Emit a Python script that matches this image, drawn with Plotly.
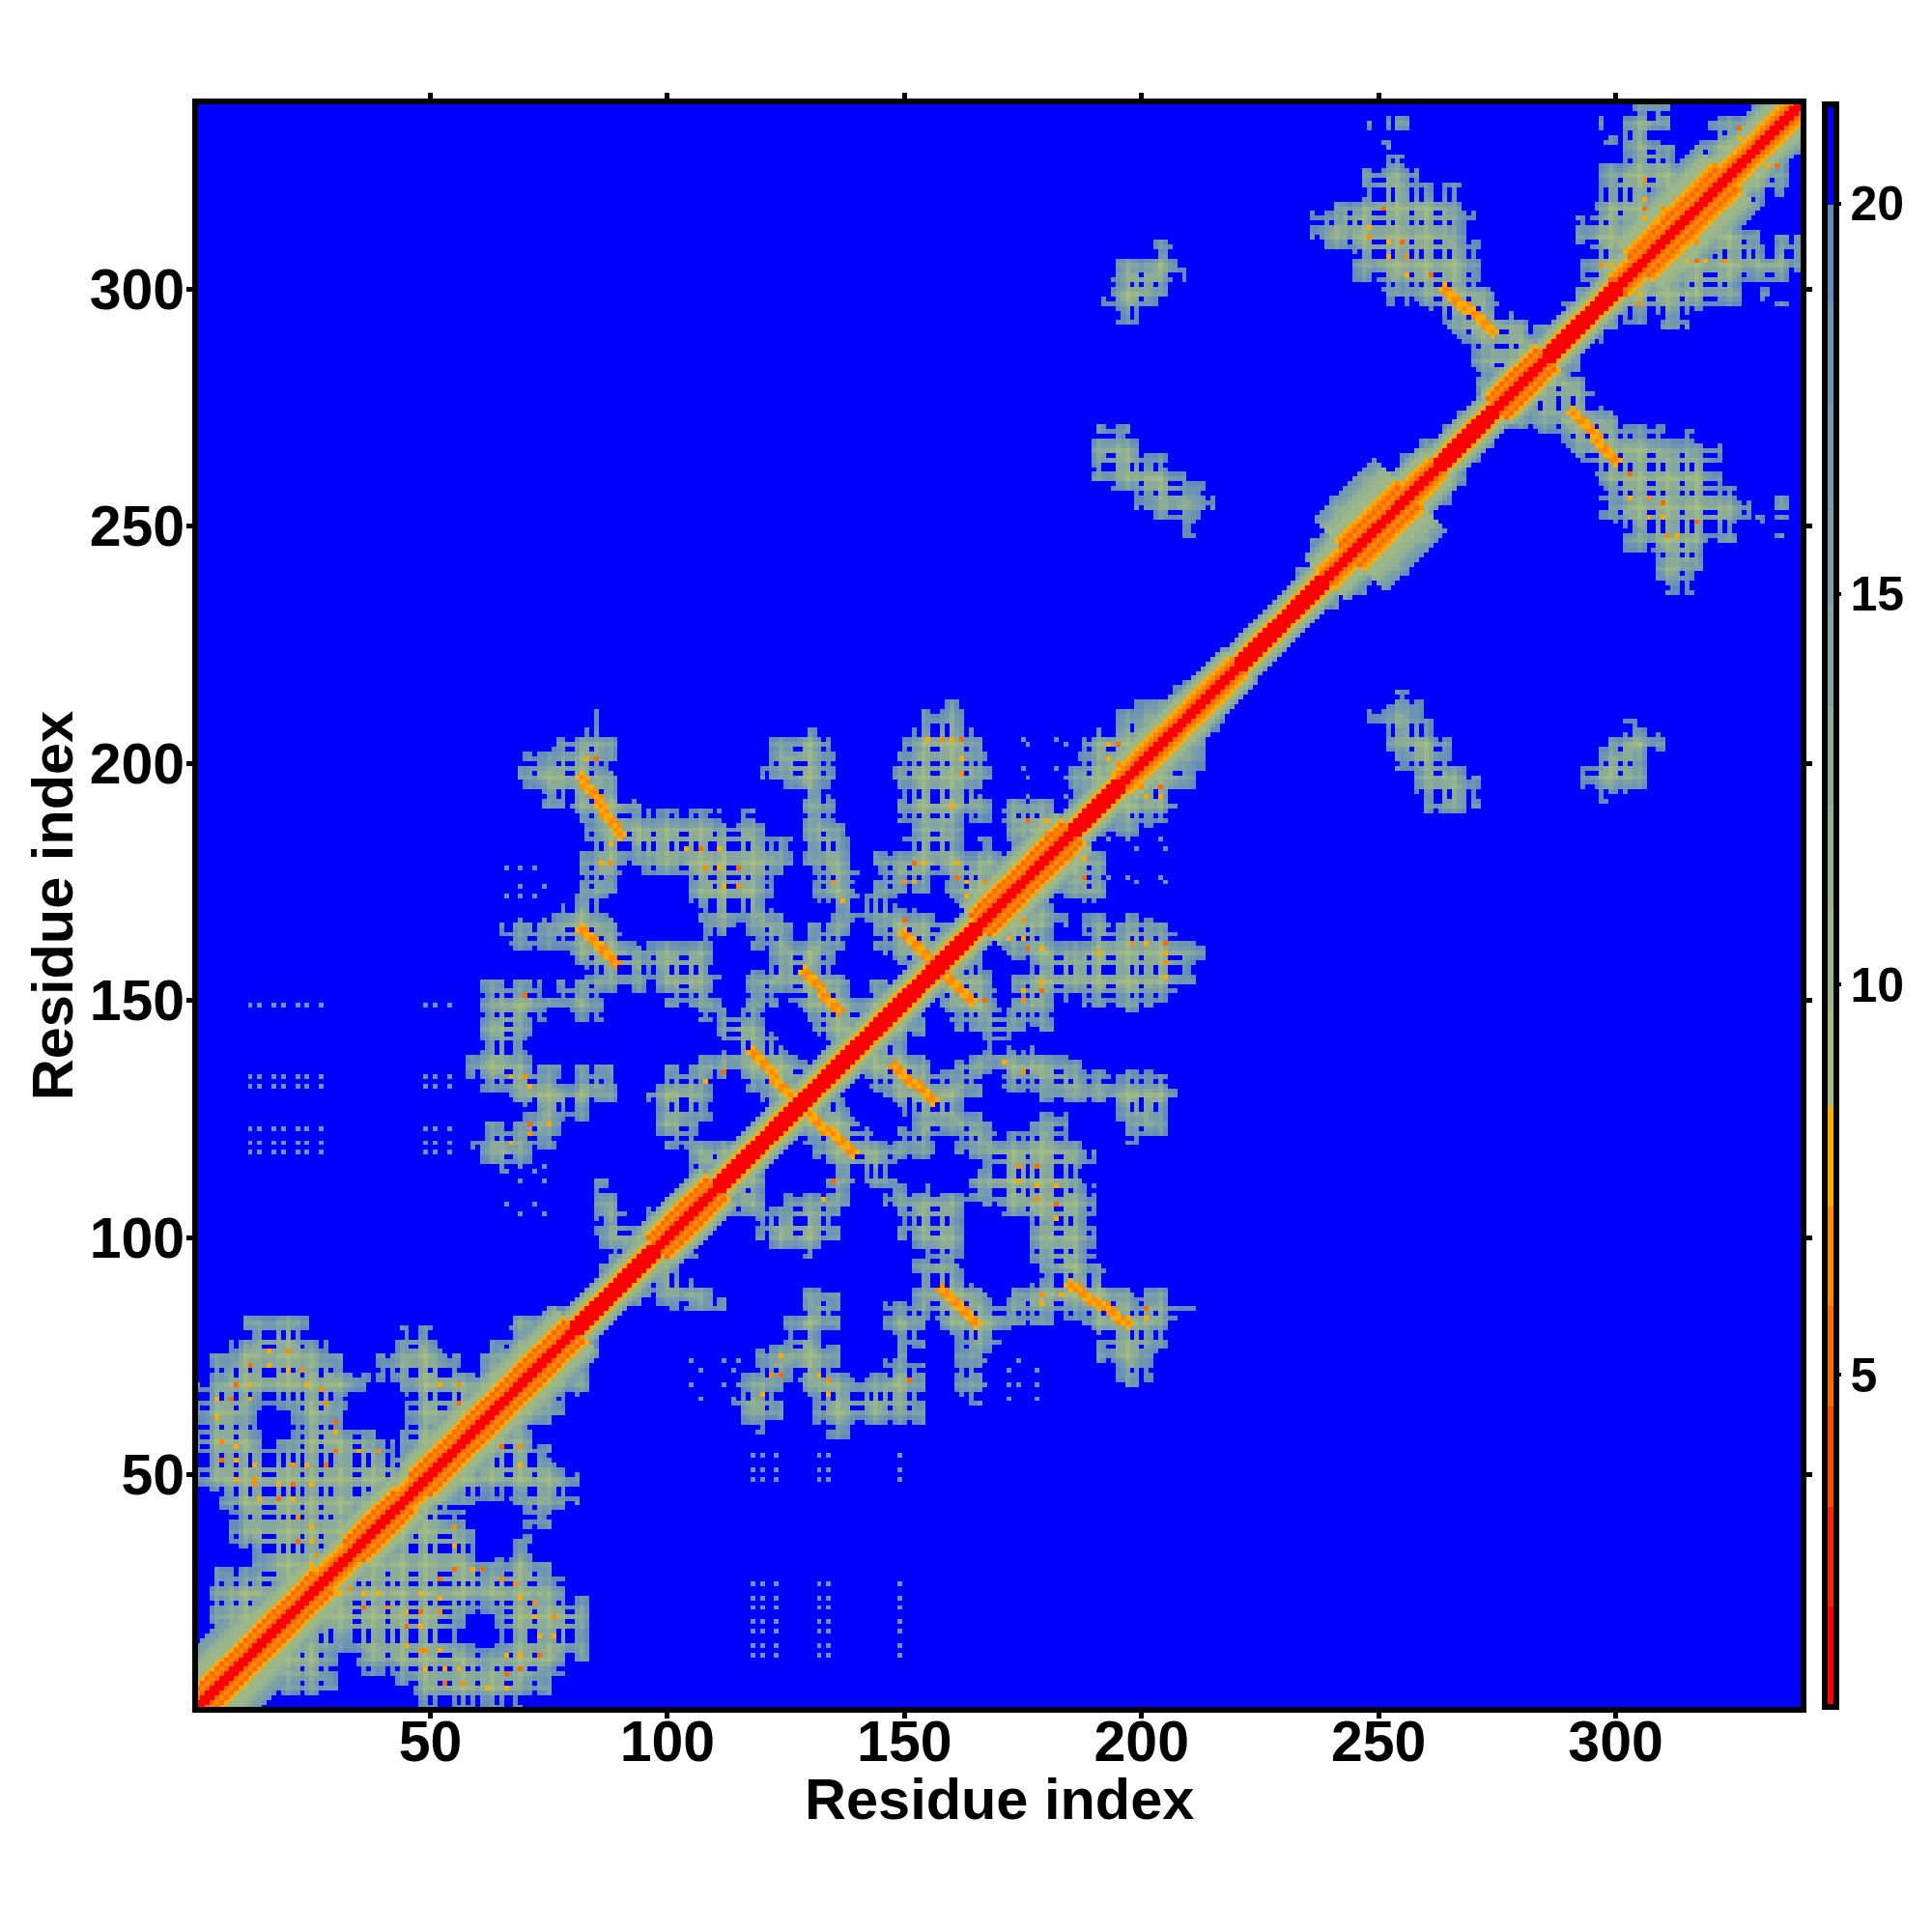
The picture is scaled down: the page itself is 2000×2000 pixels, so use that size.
import numpy as np
import plotly.graph_objects as go

N_RES = 339
tick_positions = [50, 100, 150, 200, 250, 300]
cbar_ticks = [5, 10, 15, 20]
axis_title = "Residue index"
band_edges = [0.75, 21.27]
band_colors = ["#ff0000", "#ff2200", "#ff4a00", "#ff6a00", "#ff8c00", "#ffaa00",
               "#a4bd80", "#9cb888", "#94b290", "#8cac98", "#84a6a0", "#7ca0a8",
               "#749ab0", "#6c94b4", "#648cb8", "#0000ff"]

# contact regions, read row by row (row centre: runs of residues); each row spans three residues
lower_left_rows = {
    83: [(11, 24), (67, 80)], 80: [(11, 24), (44, 50), (66, 80)], 77: [(8, 28), (43, 53), (63, 77)],
    74: [(4, 31), (39, 56), (60, 74)], 71: [(4, 37), (39, 71)], 68: [(1, 36), (44, 68)],
    65: [(1, 32), (45, 65)], 62: [(1, 13), (21, 31), (45, 62)], 59: [(1, 14), (21, 38), (44, 59)],
    56: [(1, 42), (44, 56)], 53: [(1, 53)], 50: [(1, 50)], 47: [(1, 47)], 44: [(6, 44)],
    41: [(8, 41)], 38: [(8, 38)], 35: [(8, 35)], 32: [(13, 32)], 29: [(5, 29)], 26: [(4, 26)],
    23: [(4, 23)], 20: [(4, 20)], 17: [(8, 17)], 14: [(1, 14)],
}
central_rows = {
    212: [(159, 161)], 210: [(84, 85), (154, 163), (194, 210)],
    207: [(82, 87), (127, 132), (151, 165), (190, 207)],
    204: [(77, 89), (122, 134), (150, 166), (188, 204)],
    201: [(70, 89), (121, 135), (149, 167), (187, 201)],
    198: [(69, 87), (120, 135), (148, 168), (185, 198)],
    195: [(70, 86), (125, 134), (149, 166), (185, 195)],
    192: [(74, 87), (128, 135), (149, 168), (171, 181), (185, 192)],
    189: [(82, 92), (96, 111), (115, 118), (128, 135), (149, 189)],
    186: [(83, 121), (128, 137), (151, 162), (171, 186)],
    183: [(83, 126), (128, 139), (150, 163), (166, 170), (172, 183)],
    180: [(82, 92), (94, 126), (129, 139), (144, 180)],
    177: [(82, 91), (95, 124), (131, 141), (145, 177)],
    174: [(82, 89), (104, 122), (131, 140), (144, 156), (159, 174)],
    171: [(80, 87), (104, 122), (131, 148), (160, 171)],
    168: [(79, 87), (107, 124), (135, 146), (148, 157), (162, 168)],
    165: [(65, 88), (108, 115), (117, 126), (130, 139), (144, 152), (156, 165)],
    162: [(66, 90), (96, 109), (118, 137), (144, 155), (158, 162)],
    159: [(80, 95), (96, 110), (122, 135), (150, 159)],
    156: [(83, 90), (94, 111), (117, 126), (129, 136), (151, 156)],
    153: [(61, 73), (77, 89), (97, 110), (117, 125), (129, 138), (143, 153)],
    150: [(61, 86), (100, 111), (117, 123), (132, 138), (141, 150)],
    147: [(61, 74), (79, 86), (107, 120), (134, 139), (140, 147)],
    144: [(60, 71), (111, 120), (134, 138), (139, 144)],
    141: [(61, 70), (112, 120), (134, 141)],
    138: [(58, 71), (107, 125), (132, 138)],
    135: [(58, 77), (81, 88), (100, 127), (132, 135)],
    132: [(61, 89), (97, 109), (117, 132)],
    129: [(66, 89), (96, 109), (120, 129)],
    126: [(70, 84), (97, 109), (125, 126)],
    123: [(62, 77), (97, 106), (120, 123)],
    120: [(59, 76), (100, 113), (118, 120)],
    117: [(61, 71), (104, 117)], 114: [(63, 67), (104, 114)],
    111: [(84, 87)], 108: [(84, 90)], 105: [(84, 92), (96, 105)], 102: [(85, 102)], 99: [(86, 99)],
    96: [(88, 96)], 93: [(86, 93)], 90: [(84, 90)], 87: [(82, 87)], 84: [(75, 84)],
}
upper_rows = {
    336: [(251, 252), (254, 256)], 334: [(248, 249), (251, 252), (254, 257)], 331: [(250, 252)],
    327: [(251, 255)], 324: [(247, 258)], 321: [(247, 267)], 318: [(241, 267)], 315: [(236, 270)],
    312: [(236, 268)], 309: [(238, 271), (203, 207)], 306: [(245, 271), (195, 208)],
    303: [(245, 271), (193, 209)], 300: [(250, 272), (193, 206)],
    297: [(252, 253), (256, 257), (260, 274), (192, 203)], 294: [(266, 277), (195, 200)],
    291: [(268, 291)], 288: [(270, 288)], 285: [(270, 285)], 282: [(271, 282)], 279: [(271, 279)],
    276: [(269, 276)], 273: [(267, 273)], 270: [(263, 270), (191, 197)], 267: [(259, 267), (189, 200)],
    264: [(255, 264), (189, 205)], 261: [(249, 261), (190, 209)], 258: [(244, 258), (193, 213)],
    255: [(240, 255), (199, 215)], 252: [(238, 252), (203, 212)], 249: [(237, 249), (208, 211)],
    246: [(236, 246)], 243: [(236, 243)], 240: [(233, 240)], 216: [(206, 216)], 213: [(199, 213)],
}
top_corner_rows = {
    338: [(304, 311), (329, 338)], 335: [(296, 297), (301, 311), (319, 335)],
    332: [(298, 309), (318, 332)], 329: [(302, 312), (318, 329)], 326: [(297, 326)],
    323: [(297, 323)], 320: [(296, 320)], 317: [(295, 317)], 314: [(292, 314)], 311: [(292, 311)],
    308: [(294, 308)], 305: [(293, 305)], 302: [(293, 302)], 299: [(292, 299)], 296: [(289, 296)],
    293: [(287, 293)],
}

# near-diagonal band: first and last mid-residue, width of warm band, width of pale band
diagonal_segments = [
    (1, 15, 5, 13), (16, 27, 5, 10), (28, 33, 4, 7), (34, 44, 5, 9), (45, 47, 4, 7), (48, 60, 5, 10),
    (61, 66, 5, 9), (67, 80, 5, 10), (81, 97, 3, 6), (98, 110, 5, 8), (111, 165, 3, 6), (166, 185, 5, 9),
    (186, 195, 3, 6), (196, 210, 4, 8), (211, 220, 4, 7), (221, 238, 3, 6), (239, 243, 4, 9), (244, 256, 6, 15),
    (257, 262, 4, 8), (263, 274, 3, 6), (275, 285, 5, 7), (286, 300, 3, 6), (301, 304, 4, 8), (305, 323, 6, 13),
    (324, 339, 4, 9),
]
warm_levels = {3: [1.2, 1.2, 1.6, 7.6], 4: [1.2, 1.2, 5.0, 6.8, 7.6], 5: [1.2, 1.2, 5.0, 6.8, 5.5, 7.6],
               6: [1.2, 1.2, 5.0, 6.5, 5.5, 6.8, 7.6]}
pale_levels = [10, 10, 10.5, 11, 11.5, 12, 13, 14, 15, 16, 17, 18, 18.5]
edge_levels = [19, 18, 16.5, 15, 13.5, 12.5]

# antiparallel strand streaks: x start, x end, y start, y end
strands = [(82, 90, 197, 185), (82, 89, 165, 158), (118, 126, 139, 130), (129, 136, 156, 148),
           (150, 155, 164, 159), (264, 274, 300, 291)]
strand_levels = [6.5, 7.5]
# pale ridges carrying the strands towards the diagonal: x start, x end, y start, y end
ridges = [(80, 93, 199, 183), (80, 91, 167, 156), (116, 129, 141, 129), (127, 141, 158, 141),
          (148, 158, 166, 158), (262, 277, 302, 289)]
ridge_halfwidth = 4

hot_x = [16, 20, 16, 12, 20, 23, 12, 9, 24, 27, 5, 8, 12, 28, 5, 30, 30, 6, 9, 30, 35, 39, 9, 6, 13, 21, 24, 28, 9, 13, 18,
         21, 25, 13, 14, 18, 21, 22, 25, 22, 25, 26, 25, 56, 52, 56, 83, 85, 86, 88, 104, 107, 111, 108, 111, 115, 112,
         115, 88, 70, 67, 70, 71, 71, 75, 71, 67, 112, 108, 135, 137, 152, 154, 150, 152, 150, 155, 158, 160, 162, 162,
         162, 160, 176, 180, 180, 193, 195, 193, 195, 161, 161, 163, 167, 163, 251, 248, 248, 252, 255, 252, 256, 256,
         261, 264, 306, 306, 306, 306, 310, 309, 326, 326, 297, 299, 299]
hot_y = [76, 76, 73, 73, 72, 72, 69, 69, 69, 68, 66, 66, 66, 65, 62, 61, 59, 57, 56, 55, 55, 55, 53, 53, 52, 52, 52, 52, 49,
         49, 48, 48, 48, 48, 45, 45, 45, 41, 39, 36, 36, 33, 31, 65, 69, 69, 201, 201, 179, 179, 182, 182, 182, 178, 178,
         178, 174, 174, 183, 151, 134, 134, 132, 124, 124, 122, 120, 135, 133, 175, 171, 179, 179, 175, 175, 167, 205,
         205, 205, 205, 201, 198, 191, 188, 188, 185, 204, 204, 201, 200, 179, 176, 175, 175, 172, 317, 313, 311, 310,
         310, 307, 307, 303, 303, 301, 323, 319, 317, 315, 317, 314, 334, 332, 305, 305, 302]
hot_levels = [7.5, 6.5, 7.5, 5.8]

# isolated pale dots: residue columns, residue rows
faint_groups = [
    ([12, 14, 17, 19, 22, 24, 27, 49, 51, 54], [149, 134, 132, 123, 120, 118]),
    ([66, 69, 72], [178, 172]),
    ([66, 72], [114, 107]),
    ([193, 197, 204], [184, 176]),
    ([175, 182], [205, 199]),
    ([105, 112, 115, 167, 174], [74, 69]),
]
faint_level = 18.5

# residues whose contacts look thin in the picture, and those that read stronger
weak_residues = [2, 3, 9, 15, 16, 17, 23, 27, 34, 35, 41, 46, 47, 52, 53, 54, 60, 66, 67, 72, 79, 80, 84, 90, 91, 92, 97,
                 103, 104, 110, 113, 114, 115, 121, 127, 128, 133, 139, 140, 141, 147, 151, 156, 157, 163, 169, 170,
                 171, 176, 182, 183, 189, 193, 194, 200, 206, 207, 208, 214, 237, 238, 244, 249, 250, 251, 257, 262,
                 263, 269, 275, 276, 277, 282, 288, 294, 295, 296, 301, 307, 308, 314, 319, 320, 321, 327, 332, 333, 337]
thin_residues = [6, 12, 19, 21, 29, 37, 43, 50, 56, 58, 64, 71, 77, 86, 95, 101, 106, 109, 117, 123, 129, 135, 143, 145,
                 153, 159, 165, 174, 178, 185, 192, 198, 203, 240, 246, 253, 259, 265, 271, 279, 284, 291, 298, 303,
                 310, 316, 323, 329, 336]
strong_residues = [5, 11, 20, 25, 31, 38, 44, 49, 57, 63, 69, 75, 82, 88, 94, 100, 107, 112, 118, 124, 130, 136, 144, 149,
                   154, 160, 166, 173, 179, 186, 191, 197, 204, 241, 247, 254, 260, 266, 272, 280, 285, 292, 299, 305,
                   311, 317, 324, 330, 335]

# ---- assemble the matrix from the lists above
z = np.full((N_RES + 1, N_RES + 1), 21.0)
mask = np.zeros_like(z, dtype=bool)
for group in (lower_left_rows, central_rows, upper_rows, top_corner_rows):
    for row, runs in group.items():
        for x0, x1 in runs:
            mask[max(row - 1, 1):min(row + 2, N_RES + 1), x0:x1 + 1] = True
for x0, x1, y0, y1 in ridges:
    for t in range(x1 - x0 + 1):
        x = x0 + t
        y = y0 + round((y1 - y0) * t / (x1 - x0))
        mask[y - ridge_halfwidth:y + ridge_halfwidth + 1, x - ridge_halfwidth:x + ridge_halfwidth + 1] = True
mask = mask | mask.T

warm = {}
pale = {}
for r0, r1, w, f in diagonal_segments:
    for r in range(r0, r1 + 1):
        warm[r], pale[r] = w, f
off_band = np.zeros_like(mask)
for i in range(1, N_RES + 1):
    for j in range(i, N_RES + 1):
        if j - i <= pale[(i + j) // 2]:
            off_band[i, j] = off_band[j, i] = True
mask |= off_band

dist = np.zeros_like(z, dtype=int)
m = mask.copy()
for k in range(1, len(edge_levels)):
    e = m.copy()
    e[1:] &= m[:-1]; e[:-1] &= m[1:]; e[:, 1:] &= m[:, :-1]; e[:, :-1] &= m[:, 1:]
    m = e
    dist[m] = k

weak = np.zeros(N_RES + 1, dtype=int); weak[weak_residues] = 1
thin = np.zeros(N_RES + 1, dtype=int); thin[thin_residues] = 1
strong = np.zeros(N_RES + 1, dtype=int); strong[strong_residues] = 1
for i in range(1, N_RES + 1):
    for j in range(1, N_RES + 1):
        if not mask[i, j]:
            continue
        v = edge_levels[dist[i, j]] + 2.0 * (weak[i] + weak[j]) - 2.0 * (strong[i] + strong[j])
        v = min(max(v, 9.0), 19.5)
        nw = weak[i] + weak[j]
        if nw == 2 or (nw == 1 and dist[i, j] == 0) or (weak[i] and thin[j]) or (thin[i] and weak[j]):
            v = 21.0
        z[i, j] = v

for i in range(1, N_RES + 1):
    for j in range(i, N_RES + 1):
        c = (i + j) // 2
        w, f = warm[c], pale[c]
        o = j - i
        if o > f:
            continue
        if o <= w:
            v = warm_levels[w][o]
        else:
            v = pale_levels[int((o - w - 1) * len(pale_levels) / max(f - w, 1))]
            if z[i, j] < 21:
                v = min(v, z[i, j])
        z[i, j] = z[j, i] = v

for cols, rows in faint_groups:
    for x in cols:
        for y in rows:
            z[y, x] = z[x, y] = faint_level

for x0, x1, y0, y1 in strands:
    n = x1 - x0
    for t in range(n + 1):
        x = x0 + t
        y = y0 + round((y1 - y0) * t / n)
        for dx, dy in ((0, 0), (1, 0), (0, -1), (-1, 0), (0, 1)):
            lv = (t + dx + dy) % 2
            z[y + dy, x + dx] = z[x + dx, y + dy] = strand_levels[lv]

for k, (x, y) in enumerate(zip(hot_x, hot_y)):
    z[y, x] = z[x, y] = hot_levels[k % len(hot_levels)]

# discrete colour scale, one band for each colour
n = len(band_colors)
colorscale = []
for k, c in enumerate(band_colors):
    colorscale += [[k / n, c], [(k + 1) / n, c]]

residues = list(range(1, N_RES + 1))
FONT = "Liberation Sans"
fig = go.Figure(go.Heatmap(
    x=residues, y=residues, z=z[1:, 1:], zmin=band_edges[0], zmax=band_edges[1],
    colorscale=colorscale, zsmooth=False, hoverinfo="skip",
    colorbar=dict(thickness=12, len=1, lenmode="fraction", y=0, yanchor="bottom", x=1.0151, xanchor="left",
                  xpad=0, ypad=0, outlinewidth=6, outlinecolor="black", tickvals=cbar_ticks,
                  ticks="outside", ticklen=2, tickwidth=4, tickcolor="black",
                  tickfont=dict(family=FONT, size=50, color="black", weight="bold")),
))
ax = dict(range=[1, 339], tickvals=tick_positions, ticks="outside", ticklen=6, tickwidth=5, tickcolor="black",
          showline=True, linewidth=6, linecolor="black", mirror="ticks", showgrid=False, zeroline=False,
          tickfont=dict(family=FONT, size=59, color="black", weight="bold"))
title_font = dict(family=FONT, size=59.5, color="black", weight="bold")
fig.update_xaxes(**ax, ticklabelstandoff=-27)
fig.update_yaxes(**ax, ticklabelstandoff=-10, title=dict(text=axis_title, standoff=0, font=title_font))
fig.add_annotation(text=axis_title, xref="paper", yref="paper", x=0.5, y=-0.0573, xanchor="center", yanchor="middle",
                   showarrow=False, font=title_font)
fig.update_layout(width=2000, height=2000, margin=dict(l=205, r=136, t=108, b=233, autoexpand=False),
                  paper_bgcolor="white", plot_bgcolor="white")
fig.write_html("out.html", config=dict(displayModeBar=False),
               post_script="document.body.style.margin='0';document.documentElement.style.overflow='hidden';")
